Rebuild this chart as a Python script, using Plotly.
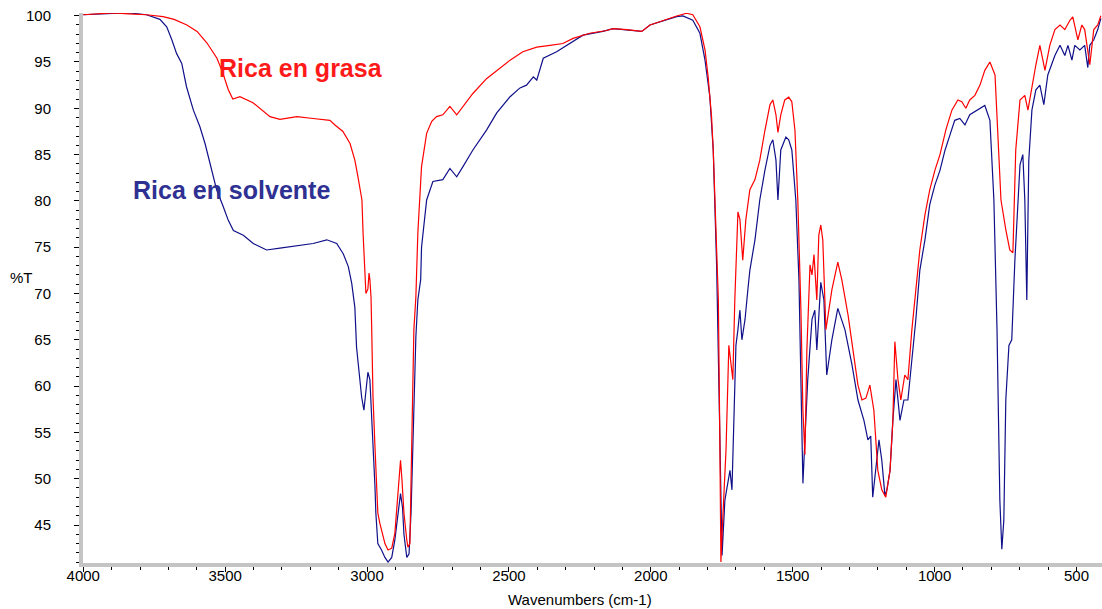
import plotly.graph_objects as go

# Rica en grasa (red)
grasa_wn = [4000, 3950, 3895, 3840, 3777, 3719, 3680, 3635, 3599, 3564, 3529, 3508, 3489, 3473, 3448,
            3402, 3342, 3307, 3247, 3190, 3131, 3113, 3085, 3060, 3043, 3032, 3018, 3014, 3007, 3004,
            2997, 2993, 2990, 2986, 2984, 2979, 2972, 2966, 2962, 2955, 2937, 2926, 2913, 2902, 2891,
            2882, 2877, 2870, 2860, 2856, 2849, 2843, 2839, 2835, 2828, 2821, 2808, 2790, 2772, 2755,
            2733, 2708, 2684, 2662, 2627, 2579, 2543, 2496, 2451, 2402, 2355, 2310, 2274, 2215, 2156,
            2133, 2085, 2032, 2003, 1957, 1909, 1874, 1852, 1827, 1809, 1798, 1786, 1780, 1774, 1768,
            1762, 1757, 1753, 1749, 1742, 1735, 1725, 1718, 1711, 1704, 1693, 1686, 1676, 1665, 1651,
            1633, 1616, 1598, 1580, 1570, 1559, 1552, 1542, 1528, 1514, 1503, 1492, 1482, 1471, 1464,
            1457, 1450, 1439, 1432, 1425, 1415, 1408, 1401, 1394, 1383, 1372, 1362, 1341, 1327, 1305,
            1288, 1270, 1256, 1242, 1228, 1214, 1200, 1186, 1172, 1157, 1147, 1140, 1129, 1119, 1105,
            1094, 1080, 1066, 1052, 1034, 1017, 999, 981, 960, 939, 918, 904, 890, 876, 858,
            840, 823, 805, 787, 777, 766, 749, 735, 724, 714, 699, 682, 671, 657, 643,
            629, 611, 594, 576, 558, 541, 523, 513, 495, 481, 471, 453, 439, 425, 414]
grasa_t = [100.1, 100.2, 100.3, 100.2, 100.1, 99.9, 99.6, 99.0, 98.3, 97.05, 95.4, 93.8, 92.0, 91.0, 91.25,
           90.6, 89.1, 88.8, 89.1, 88.9, 88.7, 88.2, 87.5, 86.2, 84.4, 82.6, 80.1, 76.5, 72.9, 70.0,
           70.5, 72.2, 71.5, 69.6, 66.8, 58.8, 53.4, 49.1, 46.3, 45.2, 43.0, 42.3, 42.5, 44.1, 49.1,
           52.0, 49.9, 46.3, 43.4, 42.6, 43.0, 53.4, 60.7, 66.1, 69.6, 76.5, 83.7, 87.3, 88.6, 89.1,
           89.3, 90.2, 89.3, 90.2, 91.6, 93.2, 94.1, 95.2, 96.1, 96.6, 96.8, 97.0, 97.55, 98.1, 98.4,
           98.6, 98.5, 98.3, 99.0, 99.5, 99.97, 100.26, 100.1, 98.8, 96.3, 93.4, 89.1, 85.5, 80.1, 74.7,
           69.3, 55.0, 41.0, 44.0, 48.9, 53.1, 64.4, 62.8, 60.7, 69.3, 78.8, 78.0, 73.6, 78.0, 81.2,
           82.3, 84.4, 87.6, 90.4, 90.9, 89.3, 87.4, 89.3, 90.9, 91.2, 90.7, 87.6, 80.1, 68.2, 57.4,
           52.6, 63.9, 73.1, 72.0, 74.2, 69.3, 76.3, 77.4, 75.8, 66.1, 68.2, 70.4, 73.4, 71.5, 67.7,
           63.9, 60.1, 58.5, 58.7, 60.1, 57.4, 50.9, 48.8, 48.0, 50.9, 56.3, 64.8, 60.7, 58.5, 61.2,
           60.7, 66.1, 70.4, 74.7, 78.5, 81.2, 83.3, 85.0, 87.7, 89.8, 90.9, 90.7, 90.0, 90.9, 91.4,
           92.5, 94.1, 95.0, 93.6, 87.6, 80.1, 76.9, 74.7, 74.4, 85.5, 90.9, 91.4, 89.8, 92.5, 94.7,
           96.8, 94.1, 96.8, 98.5, 99.0, 98.5, 99.5, 99.86, 97.4, 99.0, 98.5, 94.7, 98.5, 99.0, 100.0]

# Rica en solvente (blue)
solv_wn = [4000, 3950, 3895, 3840, 3777, 3730, 3706, 3688, 3671, 3653, 3636, 3612, 3589, 3571, 3554,
           3530, 3507, 3489, 3471, 3436, 3401, 3354, 3307, 3236, 3190, 3142, 3107, 3084, 3066, 3054,
           3046, 3043, 3037, 3029, 3019, 3011, 3001, 2997, 2990, 2984, 2979, 2972, 2969, 2962, 2949,
           2937, 2926, 2913, 2902, 2891, 2882, 2875, 2870, 2860, 2852, 2845, 2839, 2835, 2828, 2821,
           2811, 2808, 2790, 2768, 2733, 2708, 2684, 2662, 2627, 2579, 2543, 2496, 2461, 2438, 2414,
           2402, 2379, 2332, 2285, 2239, 2169, 2133, 2032, 2003, 1909, 1887, 1852, 1827, 1809, 1792,
           1780, 1774, 1768, 1760, 1752, 1749, 1739, 1728, 1721, 1714, 1707, 1700, 1693, 1686, 1679,
           1668, 1658, 1651, 1633, 1616, 1598, 1580, 1570, 1559, 1552, 1542, 1524, 1514, 1503, 1489,
           1478, 1471, 1464, 1457, 1447, 1432, 1422, 1415, 1401, 1390, 1380, 1362, 1341, 1316, 1291,
           1270, 1249, 1235, 1225, 1218, 1207, 1196, 1186, 1175, 1168, 1157, 1147, 1136, 1122, 1108,
           1094, 1080, 1066, 1052, 1034, 1017, 999, 981, 963, 946, 929, 911, 893, 876, 847,
           823, 805, 791, 780, 770, 763, 756, 749, 738, 728, 717, 699, 689, 682, 675,
           668, 657, 643, 629, 615, 601, 576, 558, 541, 530, 516, 506, 488, 471, 460,
           453, 439, 425, 414]
solv_t = [100.1, 100.2, 100.26, 100.3, 100.1, 99.6, 98.8, 97.4, 95.9, 94.85, 92.3, 89.8, 88.0, 86.2, 84.1,
          81.2, 79.4, 77.9, 76.8, 76.3, 75.4, 74.7, 74.9, 75.2, 75.4, 75.8, 75.4, 74.3, 72.9, 71.1,
          69.3, 68.5, 64.2, 61.4, 58.8, 57.4, 60.3, 61.5, 60.7, 57.1, 52.8, 49.1, 46.3, 43.0, 42.3,
          41.5, 41.0, 41.5, 43.4, 46.3, 48.4, 46.9, 44.0, 41.5, 41.9, 46.3, 53.4, 59.2, 65.3, 69.3,
          71.5, 75.0, 80.1, 82.1, 82.3, 83.5, 82.6, 83.7, 85.5, 87.65, 89.5, 91.25, 92.2, 92.5, 93.4,
          93.05, 95.4, 96.1, 97.0, 97.9, 98.3, 98.6, 98.3, 99.0, 99.9, 99.97, 99.5, 98.1, 95.2, 91.25,
          85.5, 80.1, 72.9, 60.0, 45.0, 41.7, 47.7, 49.9, 50.9, 48.8, 56.3, 64.4, 66.1, 68.2, 65.0,
          67.2, 70.4, 72.5, 75.8, 80.1, 83.3, 86.0, 86.6, 84.4, 80.1, 85.5, 86.9, 86.6, 85.5, 80.1,
          71.5, 58.5, 49.5, 54.2, 60.7, 67.2, 68.2, 63.9, 71.2, 69.3, 61.2, 65.0, 68.4, 66.1, 62.3,
          58.5, 56.3, 54.2, 54.6, 48.0, 50.9, 54.2, 52.0, 48.2, 48.8, 50.9, 56.3, 60.7, 56.3, 58.5,
          58.5, 62.8, 67.2, 72.5, 75.8, 79.6, 81.7, 83.3, 85.5, 87.1, 88.7, 88.9, 88.2, 89.3, 89.8,
          90.3, 88.7, 80.1, 66.1, 47.7, 42.4, 45.5, 58.5, 64.4, 65.0, 73.6, 83.9, 85.0, 80.1, 69.3,
          84.4, 89.8, 92.0, 92.5, 90.4, 93.6, 95.7, 96.8, 95.7, 96.8, 95.2, 96.8, 96.3, 96.8, 94.4,
          96.8, 97.4, 98.5, 99.7]

x_ticks = [4000, 3500, 3000, 2500, 2000, 1500, 1000, 500]
y_ticks = [45, 50, 55, 60, 65, 70, 75, 80, 85, 90, 95, 100]

FONT = "Liberation Sans, Arial, sans-serif"

fig = go.Figure()
fig.add_trace(go.Scatter(x=solv_wn, y=solv_t, mode="lines",
                         line=dict(color="#10108a", width=1.2), name="Rica en solvente"))
fig.add_trace(go.Scatter(x=grasa_wn, y=grasa_t, mode="lines",
                         line=dict(color="#ff0000", width=1.2), name="Rica en grasa"))

fig.update_layout(
    width=1102, height=609,
    margin=dict(l=83, r=0, t=13, b=46),
    paper_bgcolor="white", plot_bgcolor="white",
    showlegend=False,
    font=dict(family=FONT, size=15, color="black"),
)
fig.update_xaxes(
    range=[4001, 410], tickvals=x_ticks, ticktext=[str(v) for v in x_ticks],
    showgrid=False, zeroline=False, showline=True, linecolor="#c4c4c4", linewidth=4,
    ticks="outside", ticklen=5, tickcolor="black", tickwidth=1, ticklabelstandoff=-9,
    minor=dict(dtick=100, ticks="outside", ticklen=3, tickcolor="black", showgrid=False),
    tickfont=dict(size=15),
)
fig.update_yaxes(
    range=[40.9, 100.29], tickvals=y_ticks, ticktext=[str(v) for v in y_ticks],
    showgrid=False, zeroline=False, showline=True, linecolor="#c4c4c4", linewidth=4,
    ticks="outside", ticklen=5, tickcolor="black", tickwidth=1, ticklabelstandoff=20,
    minor=dict(dtick=1, ticks="outside", ticklen=3, tickcolor="black", showgrid=False),
    tickfont=dict(size=15),
)

fig.add_annotation(x=3233, y=94.35, text="<b>Rica en grasa</b>", showarrow=False,
                   font=dict(family=FONT, size=25, color="#ff1a1a"))
fig.add_annotation(x=3476, y=81.2, text="<b>Rica en solvente</b>", showarrow=False,
                   font=dict(family=FONT, size=25, color="#2e3192"))
fig.add_annotation(xref="paper", yref="paper", x=-0.0602, y=0.519, text="%T", showarrow=False,
                   xanchor="center", yanchor="middle", font=dict(family=FONT, size=15))
fig.add_annotation(xref="paper", yref="paper", x=0.4876, y=-0.067, text="Wavenumbers (cm-1)",
                   showarrow=False, xanchor="center", yanchor="middle", font=dict(family=FONT, size=15))

fig.write_html("out.html")
